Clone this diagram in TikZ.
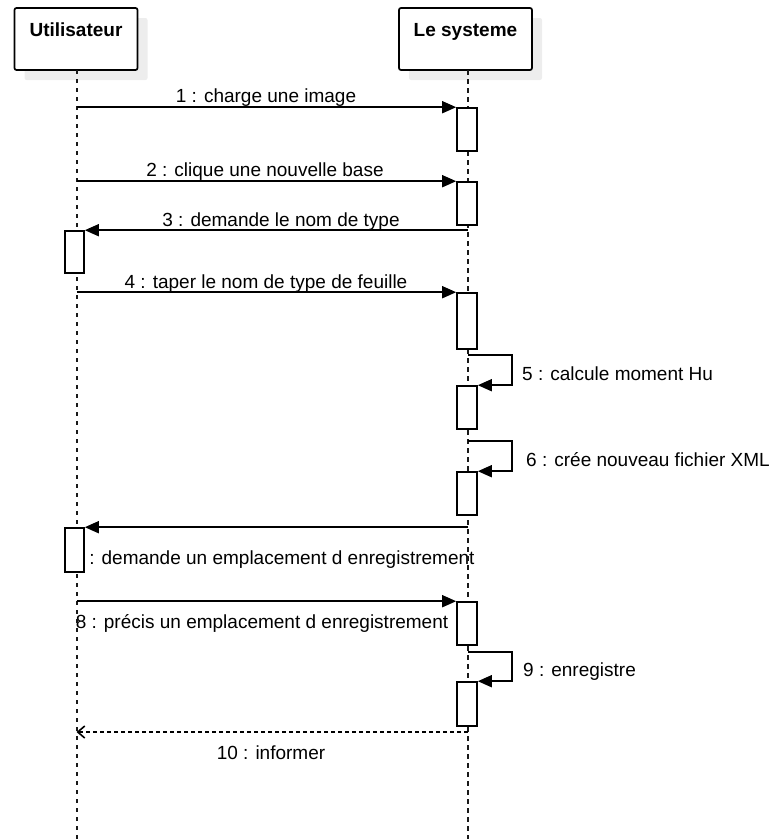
\documentclass[tikz,border=0pt]{standalone}
\usepackage{fontspec}
\setmainfont{Liberation Sans}
\usetikzlibrary{arrows.meta,shadows}
\begin{document}
\begin{tikzpicture}[x=1pt,y=-1pt,
  head/.style={draw, line width=1.7pt, rounded corners=2pt, fill=white, inner sep=0pt,
    drop shadow={shadow xshift=10pt, shadow yshift=-10pt, fill=black!7, opacity=1}},
  title/.style={font=\bfseries\fontsize{19}{22}\selectfont, anchor=base, inner sep=0pt},
  lbl/.style={font=\fontsize{19}{22}\selectfont, anchor=base, inner sep=0pt},
  life/.style={line width=2pt, dash pattern=on 4pt off 5pt, black!90},
  slife/.style={line width=1.5pt, dash pattern=on 5pt off 4pt, black!90},
  act/.style={draw, fill=white, line width=1.6pt, minimum width=20pt, inner sep=0pt},
  msg/.style={line width=1.6pt, -{Triangle[length=14pt,width=12pt]}},
  ret/.style={line width=1.6pt, dash pattern=on 4pt off 3pt,
    -{Straight Barb[length=7pt,width=12pt]}}
]
\useasboundingbox (0,0) rectangle (770,839);

% participants
\node[head, minimum width=123pt, minimum height=62pt] (user) at (76,39) {};
\node[title] (usertxt) at (76,36) {Utilisateur};
\node[head, minimum width=133pt, minimum height=62pt] (sys) at (465.5,39) {};
\node[title] (systxt) at (465.5,36) {Le systeme};

% message labels
\node[lbl] (l1) at (266,102) {1 : charge une image};
\node[lbl] (l2) at (265,176.5) {2 : clique une nouvelle base};
\node[lbl] (l3) at (281,226.5) {3 : demande le nom de type};
\node[lbl] (l4) at (266,288) {4 : taper le nom de type de feuille};
\node[lbl, anchor=base west] (l5) at (522,380) {5 : calcule moment Hu};
\node[lbl, anchor=base west] (l6) at (526,466.5) {6 : crée nouveau fichier XML};
\node[lbl] (l7) at (274,564) {7 : demande un emplacement d enregistrement};
\node[lbl] (l8) at (262,628) {8 : précis un emplacement d enregistrement};
\node[lbl, anchor=base west] (l9) at (523,676.5) {9 : enregistre};
\node[lbl] (l10) at (271,759) {10 : informer};

% lifelines
\coordinate (utop) at (76.5,70);
\coordinate (ubot) at (76.5,839);
\coordinate (stop) at (468,70);
\coordinate (sbot) at (468,839);
\draw[life] (utop) -- (ubot);
\draw[slife] (stop) -- (sbot);

% activation bars
\node[act, minimum height=43pt] (a1) at (467,129.5) {};
\node[act, minimum height=43pt] (a2) at (467,203.5) {};
\node[act, minimum width=19pt, minimum height=42pt] (u3) at (74.5,252) {};
\node[act, minimum height=56pt] (a4) at (467,321) {};
\node[act, minimum height=43pt] (a5) at (467,407.5) {};
\node[act, minimum height=43pt] (a6) at (467,493.5) {};
\node[act, minimum width=19pt, minimum height=44pt] (u7) at (74.5,550) {};
\node[act, minimum height=43pt] (a8) at (467,623.5) {};
\node[act, minimum height=44pt] (a9) at (467,704) {};

% messages
\draw[msg] (utop |- a1.north west) -- (a1.north west);
\draw[msg] (utop |- a2.north west) -- (a2.north west);
\draw[msg] (stop |- u3.north east) -- (u3.north east);
\draw[msg] (utop |- a4.north west) -- (a4.north west);
\coordinate (s5) at (468,355);
\draw[msg] (s5) -- ++(44,0) |- (a5.north east);
\coordinate (s6) at (468,441);
\draw[msg] (s6) -- ++(44,0) |- (a6.north east);
\draw[msg] (stop |- u7.north east) -- (u7.north east);
\draw[msg] (utop |- a8.north west) -- (a8.north west);
\coordinate (s9) at (468,652);
\draw[msg] (s9) -- ++(44,0) |- (a9.north east);
\coordinate (r10) at (468,732);
\draw[ret] (r10) -- (utop |- r10);
\end{tikzpicture}
\end{document}
